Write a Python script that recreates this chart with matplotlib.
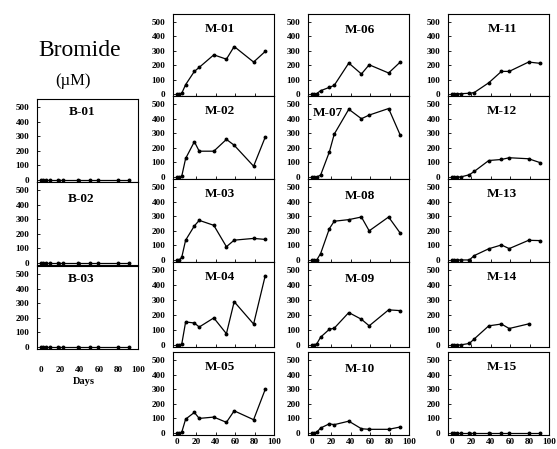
import numpy as np
import matplotlib
matplotlib.use("Agg")
import matplotlib.pyplot as plt

# ---------------- data ----------------
days = [0, 2.5, 5, 9, 18, 23, 38, 51, 59, 79, 91]
nan = np.nan

b01 = [0, 0, 0, 0, 0, 0, 0, 0, 0, 0, 0]
b02 = [0, 0, 0, 0, 0, 0, 0, 0, 0, 0, 0]
b03 = [0, 0, 0, 0, 0, 0, 0, 0, 0, 0, 0]

m01 = [0, 0, 5, 65, 157, 185, 272, 242, 330, 222, 296]
m02 = [0, 0, 5, 127, 242, 177, 177, 258, 218, 74, 274]
m03 = [0, 0, 18, 136, 234, 272, 238, 91, 136, 148, 141]
m04 = [0, 0, 5, 154, 147, 120, 181, 75, 290, 140, 465]
m05 = [0, 0, 5, 95, 141, 100, 109, 73, 152, 91, 300]
m06 = [0, 0, 3, 23, 46, 60, 215, 139, 203, 146, 222]
m07 = [0, 0, 0, 13, 172, 294, 465, 400, 425, 470, 287]
m08 = [0, 0, 0, 44, 215, 266, 277, 295, 200, 295, 184]
m09 = [0, 0, 7, 52, 105, 112, 217, 172, 128, 235, 230]
m10 = [0, 0, 5, 34, 63, 57, 81, 29, 25, 25, 41]
m11 = [0, 0, 0, 2, 5, 10, 78, 157, 157, 222, 213]
m12 = [0, 0, 0, 0, 15, 38, 113, 120, 132, 125, 98]
m13 = [0, 0, 0, 0, 0, 30, 77, 103, 78, 135, 133]
m14 = [0, 0, 0, 0, 10, 40, 128, 140, 110, 141, nan]
m15 = [0, 0, 0, 0, 0, 0, 0, 0, 0, 0, 0]

x_ticks = [0, 20, 40, 60, 80, 100]
y_ticks = [0, 100, 200, 300, 400, 500]

# ---------------- layout ----------------
W, H = 557, 449
fig = plt.figure(figsize=(W / 100, H / 100), dpi=100)
fig.patch.set_facecolor("white")

serif = ["Liberation Serif", "DejaVu Serif"]


def make_ax(x0, y0, x1, y1):
    return fig.add_axes([x0 / W, 1 - y1 / H, (x1 - x0) / W, (y1 - y0) / H])


def panel(box, vals, name, tx=0.5, ty=0.82, xlabels=False, xpad=2.0, ypad=5.5):
    ax = make_ax(*box)
    ax.plot(days, vals, color="black", lw=0.9, marker="o", ms=1.8,
            mfc="black", mec="black")
    ax.set_xlim(-4, 97.5)
    ax.set_ylim(-14, 556)
    ax.set_xticks(x_ticks)
    ax.set_yticks(y_ticks)
    ax.tick_params(direction="in", length=2, width=0.6, top=False, right=False)
    ax.tick_params(axis="y", pad=ypad)
    ax.tick_params(axis="x", pad=xpad)
    for lab in ax.get_yticklabels():
        lab.set_fontfamily(serif)
        lab.set_fontweight("bold")
        lab.set_fontsize(6.6)
    if xlabels:
        for lab in ax.get_xticklabels():
            lab.set_fontfamily(serif)
            lab.set_fontweight("bold")
            lab.set_fontsize(6.6)
    else:
        ax.set_xticklabels([])
    for s in ax.spines.values():
        s.set_linewidth(0.8)
        s.set_color("black")
    ax.text(tx, ty, name, transform=ax.transAxes, ha="center", va="center",
            fontsize=9.5, fontfamily=serif, fontweight="bold")
    return ax


# column positions (pixels)
cB = (37, 138)
c1 = (173, 274)
c2 = (308, 409)
c3 = (448, 549)
rows = [(14, 96), (96, 179), (179, 262), (262, 347), (352, 435)]
rowsB = [(99, 182), (182, 265), (266, 349)]

# B column
panel((cB[0], rowsB[0][0], cB[1], rowsB[0][1]), b01, "B-01", tx=0.45, ty=0.84)
panel((cB[0], rowsB[1][0], cB[1], rowsB[1][1]), b02, "B-02", tx=0.44, ty=0.80)
panel((cB[0], rowsB[2][0], cB[1], rowsB[2][1]), b03, "B-03", tx=0.44, ty=0.84,
      xlabels=True, xpad=12)

# M column 1
col1 = [m01, m02, m03, m04, m05]
for i, (v, n) in enumerate(zip(col1, ["M-01", "M-02", "M-03", "M-04", "M-05"])):
    r = rows[i]
    panel((c1[0], r[0], c1[1], r[1]), v, n, tx=0.465, ty=0.82, xlabels=(i == 4))

# M column 2
col2 = [m06, m07, m08, m09, m10]
names2 = ["M-06", "M-07", "M-08", "M-09", "M-10"]
for i, (v, n) in enumerate(zip(col2, names2)):
    r = rows[i]
    tx = 0.2 if n == "M-07" else 0.51
    panel((c2[0], r[0], c2[1], r[1]), v, n, tx=tx, ty=0.80, xlabels=(i == 4))

# M column 3
col3 = [m11, m12, m13, m14, m15]
names3 = ["M-11", "M-12", "M-13", "M-14", "M-15"]
for i, (v, n) in enumerate(zip(col3, names3)):
    r = rows[i]
    panel((c3[0], r[0], c3[1], r[1]), v, n, tx=0.535, ty=0.82, xlabels=(i == 4))

# Titles
fig.text(80 / W, 1 - 50 / H, "Bromide", ha="center", va="center",
         fontsize=17, fontfamily=serif)
fig.text(73 / W, 1 - 81 / H, "(\u00b5M)", ha="center", va="center",
         fontsize=12, fontfamily=serif)
fig.text(84 / W, 1 - 381 / H, "Days", ha="center", va="center",
         fontsize=7.5, fontfamily=serif, fontweight="bold")

fig.savefig("out.png", dpi=100, facecolor="white")
